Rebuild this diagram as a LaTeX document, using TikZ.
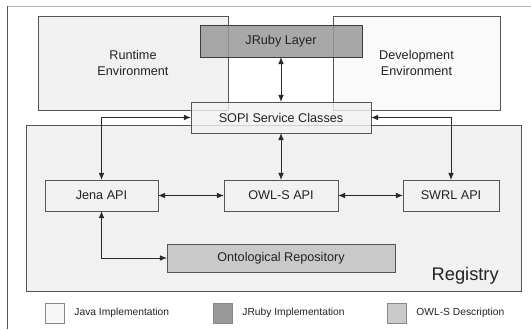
\documentclass[tikz,border=0pt]{standalone}
\usepackage{fontspec}
\setmainfont{Liberation Sans}
\usetikzlibrary{positioning,arrows.meta}
\definecolor{boxline}{HTML}{555555}
\definecolor{javafill}{HTML}{F1F1F1}
\definecolor{devfill}{HTML}{FAFAFA}
\definecolor{rubyfill}{HTML}{999999}
\definecolor{owlfill}{HTML}{C9C9C9}
\definecolor{linkcol}{HTML}{2A2A2A}
\definecolor{textcol}{HTML}{222222}
\tikzset{
  box/.style={draw=boxline, line width=0.6pt, inner sep=0pt, outer sep=0pt,
    align=center, text=textcol, font=\fontsize{9}{11}\selectfont},
  java/.style={box, fill=javafill},
  devenv/.style={box, fill=devfill},
  ruby/.style={box, draw=boxline!70!black, fill=rubyfill, fill opacity=0.85, text opacity=1},
  sopibox/.style={box, fill=javafill, fill opacity=0.8, text opacity=1},
  owl/.style={box, fill=owlfill},
  api/.style={java, minimum height=0.775cm},
  link/.style={draw=linkcol, line width=0.6pt,
    {Latex[length=5pt,width=4pt]}-{Latex[length=5pt,width=4pt]}},
  keybox/.style={draw=boxline!70, line width=0.5pt, inner sep=0pt, outer sep=0pt,
    minimum width=0.49cm, minimum height=0.5cm},
  keytext/.style={inner sep=0pt, anchor=west, text=textcol, font=\fontsize{7.3}{8}\selectfont},
}

\begin{document}
\begin{tikzpicture}[x=0.025cm, y=-0.025cm]
  \useasboundingbox (0,0) rectangle (531,329);
  % outer frame (cut at right and bottom)
  \draw[gray!60, line width=0.5pt] (531,6) -- (7,6);
  \draw[boxline, line width=0.7pt] (7,6) -- (7,329);

  % environments
  \node (runtime) [java, minimum width=4.75cm, minimum height=2.35cm] at (133,63) {Runtime\\Environment};
  \node (devel) [devenv, minimum width=4.175cm, minimum height=2.35cm] at (416.5,63) {Development\\Environment};

  % registry
  \node (registry) [java, minimum width=12.375cm, minimum height=4.15cm] at (273.5,208) {};
  \node (reglabel) [anchor=base east, inner sep=0pt, text=textcol,
    font=\fontsize{13}{15}\selectfont] at (499,280) {Registry};

  \node (jruby) [ruby, minimum width=4.05cm, minimum height=0.8cm] at (281,41) {JRuby Layer};
  \node (sopi) [sopibox, minimum width=4.5cm, minimum height=0.775cm] at (281,117.5) {SOPI Service Classes};

  \node (jena) [api, minimum width=2.825cm] at (101.5,195.5) {Jena API};
  \node (owls) [api, minimum width=2.85cm] at (281,195.5) {OWL-S API};
  \node (swrl) [api, minimum width=2.4cm] at (451,195.5) {SWRL API};
  \node (onto) [owl, minimum width=5.7cm, minimum height=0.7cm] at (281,258) {Ontological Repository};

  % connectors
  \draw[link] (jruby.south) -- (sopi.north);
  \draw[link] (sopi.south) -- (owls.north);
  \draw[link] (sopi.west) -| (jena.north);
  \draw[link] (sopi.east) -| (swrl.north);
  \draw[link] (jena.east) -- (owls.west);
  \draw[link] (owls.east) -- (swrl.west);
  \draw[link] (jena.south) |- (onto.west);

  % legend
  \node (javakey) [keybox, fill=javafill!60!white] at (54.75,313) {};
  \node (javatext) [keytext, right=0.24cm of javakey] {Java Implementation};
  \node (rubykey) [keybox, fill=rubyfill] at (222.75,313) {};
  \node (rubytext) [keytext, right=0.24cm of rubykey] {JRuby Implementation};
  \node (owlkey) [keybox, fill=owlfill] at (396.75,313) {};
  \node (owltext) [keytext, right=0.24cm of owlkey] {OWL-S Description};
\end{tikzpicture}
\end{document}
